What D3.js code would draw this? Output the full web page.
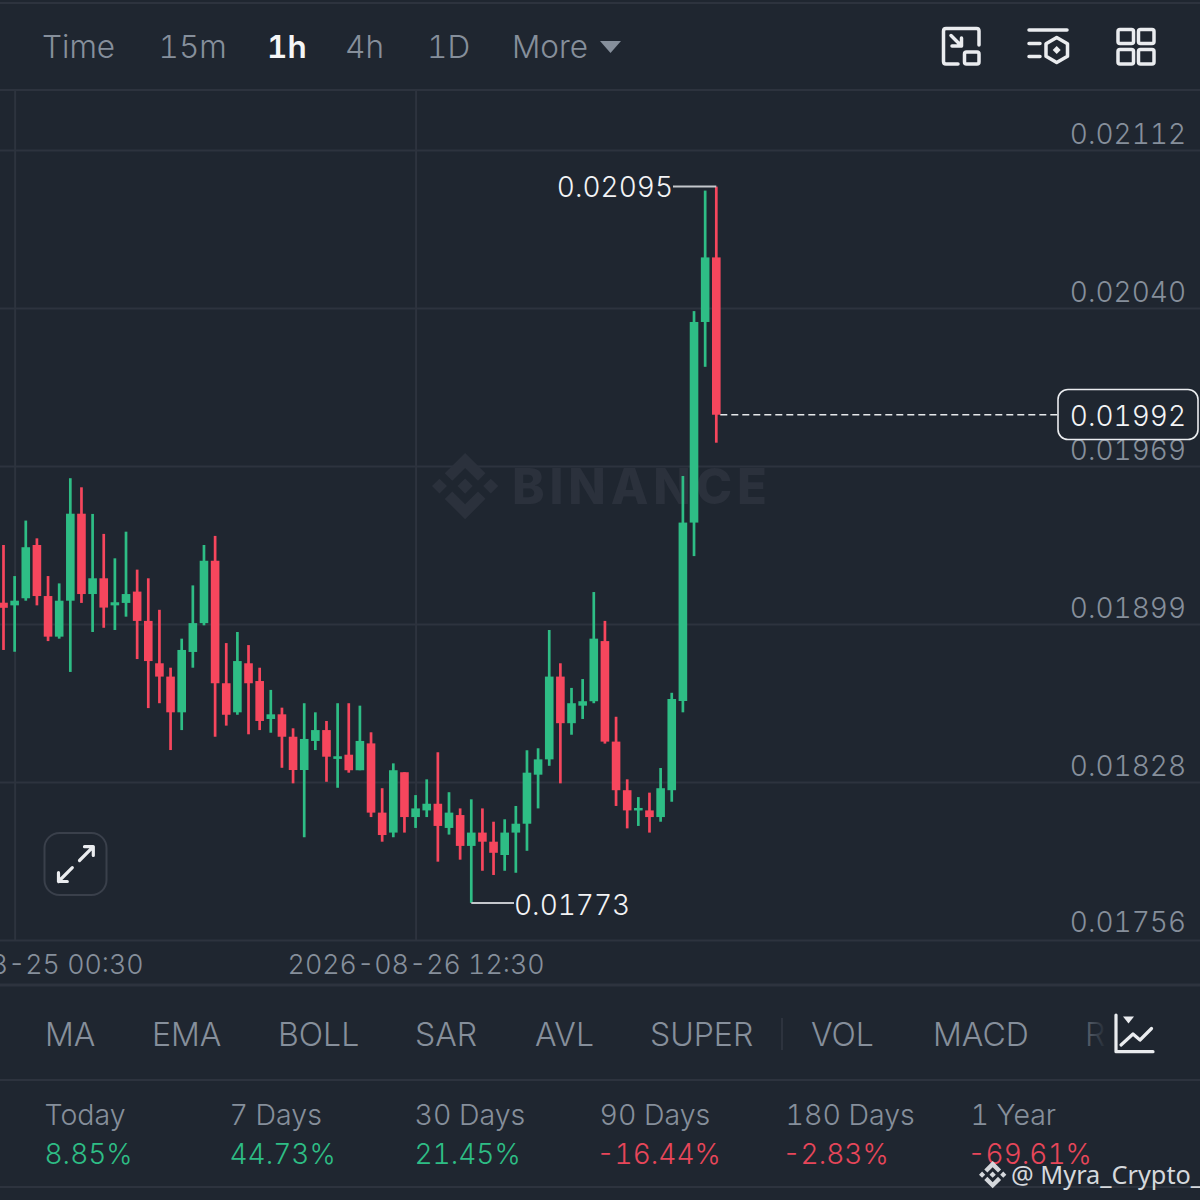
<!DOCTYPE html>
<html lang="en">

<head>
    <meta charset="UTF-8">
    <title>Binance 1h chart</title>
    <style>
        html, body { margin: 0; padding: 0; background: #1f2630; }
        svg { display: block; font-family: Inter, sans-serif; font-weight: 300; font-variant-numeric: tabular-nums; }
    </style>
</head>

<body>
    <svg width="1200" height="1200"></svg>

    <script src="https://cdn.jsdelivr.net/npm/d3@7"></script>
    <script>
        // candles, oldest first
        var opens = [0.019080, 0.019068, 0.019100, 0.019340, 0.019110, 0.018927, 0.019089, 0.019481, 0.019119, 0.019190, 0.019068, 0.019079, 0.019130,
            0.018998, 0.018807, 0.018747, 0.018586, 0.018858, 0.018988, 0.019269, 0.018717, 0.018586, 0.018807, 0.018727, 0.018556, 0.018577, 0.018476,
            0.018326, 0.018457, 0.018506, 0.018376, 0.018395, 0.018325, 0.018446, 0.018134, 0.018044, 0.018316, 0.018114, 0.018144, 0.018174, 0.018065,
            0.018123, 0.017984, 0.018044, 0.018003, 0.017943, 0.018044, 0.018084, 0.018305, 0.018374, 0.018747, 0.018537, 0.018616, 0.018636, 0.018907,
            0.018454, 0.018235, 0.018144, 0.018144, 0.018114, 0.018235, 0.018637, 0.019441, 0.020345, 0.020636];
        var highs = [0.019340, 0.019200, 0.019450, 0.019370, 0.019200, 0.019167, 0.019641, 0.019600, 0.019480, 0.019390, 0.019280, 0.019400, 0.019229,
            0.019190, 0.019048, 0.018787, 0.018918, 0.019158, 0.019340, 0.019381, 0.018898, 0.018948, 0.018889, 0.018787, 0.018687, 0.018607, 0.018514,
            0.018627, 0.018586, 0.018547, 0.018627, 0.018627, 0.018616, 0.018496, 0.018244, 0.018356, 0.018316, 0.018213, 0.018284, 0.018406, 0.018226,
            0.018153, 0.018194, 0.018153, 0.018093, 0.018104, 0.018164, 0.018415, 0.018424, 0.018957, 0.018807, 0.018696, 0.018736, 0.019128, 0.018998,
            0.018566, 0.018284, 0.018204, 0.018224, 0.018335, 0.018674, 0.019651, 0.020394, 0.020937, 0.020955];
        var lows = [0.018867, 0.018859, 0.019089, 0.019068, 0.018907, 0.018918, 0.018768, 0.019079, 0.018948, 0.018967, 0.018957, 0.019017, 0.018826,
            0.018605, 0.018627, 0.018416, 0.018506, 0.018787, 0.018978, 0.018476, 0.018526, 0.018575, 0.018487, 0.018506, 0.018494, 0.018336, 0.018266,
            0.018023, 0.018416, 0.018273, 0.018246, 0.018314, 0.018325, 0.018114, 0.018003, 0.018023, 0.018044, 0.018065, 0.018114, 0.017913, 0.018035,
            0.017922, 0.017727, 0.017872, 0.017853, 0.017872, 0.017863, 0.017962, 0.018153, 0.018345, 0.018266, 0.018485, 0.018556, 0.018627, 0.018445,
            0.018164, 0.018063, 0.018074, 0.018044, 0.018093, 0.018183, 0.018586, 0.019290, 0.020143, 0.019801];
        var closes = [0.019057, 0.019089, 0.019330, 0.019110, 0.018927, 0.019089, 0.019481, 0.019119, 0.019190, 0.019058, 0.019082, 0.019119, 0.018998,
            0.018817, 0.018747, 0.018586, 0.018867, 0.018988, 0.019269, 0.018717, 0.018575, 0.018817, 0.018717, 0.018547, 0.018577, 0.018476, 0.018326,
            0.018466, 0.018506, 0.018386, 0.018388, 0.018325, 0.018457, 0.018134, 0.018033, 0.018325, 0.018114, 0.018153, 0.018174, 0.018074, 0.018134,
            0.017984, 0.018044, 0.018003, 0.017953, 0.018044, 0.018084, 0.018314, 0.018374, 0.018747, 0.018537, 0.018627, 0.018636, 0.018918, 0.018454,
            0.018235, 0.018144, 0.018155, 0.018114, 0.018244, 0.018646, 0.019441, 0.020345, 0.020636, 0.019927];

        // axis
        var priceTicks = [0.02112, 0.020408, 0.019696, 0.018984, 0.018272, 0.01756];
        var priceLabels = ["0.02112", "0.02040", "0.01969", "0.01899", "0.01828", "0.01756"];
        var timeTicks = [1, 37];
        var timeLabels = ["2026-08-25 00:30", "2026-08-26 12:30"];

        var highLabel = "0.02095";
        var lowLabel = "0.01773";
        var lastLabel = "0.01992";

        // toolbar and footer texts
        var intervals = ["Time", "15m", "1h", "4h", "1D", "More"];
        var indicators = ["MA", "EMA", "BOLL", "SAR", "AVL", "SUPER", "VOL", "MACD", "RSI"];
        var periods = ["Today", "7 Days", "30 Days", "90 Days", "180 Days", "1 Year"];
        var changes = ["8.85%", "44.73%", "21.45%", "-16.44%", "-2.83%", "-69.61%"];

        var BG = "#1f2630";
        var GRID = "#2d333e";
        var UP = "#2ebd85";
        var DOWN = "#f6465d";
        var MUTED = "#868f9b";
        var ICON = "#eaecef";
        var LOGO = "M38.73 53.2l24.59-24.58 24.6 24.6 14.3-14.31L63.32 0 24.42 38.9zM0 63.31l14.3-14.31 14.31 14.31-14.31 14.3zM38.73 73.41l24.59 24.59 24.6-24.6 14.31 14.29-38.9 38.91-38.91-38.88zM98 63.31l14.3-14.31 14.31 14.3-14.31 14.32zM77.83 63.3L63.32 48.78 52.59 59.51l-1.24 1.23-2.54 2.54 14.51 14.5 14.51-14.52z";

        var svg = d3.select("svg");
        svg.append("rect").attr("width", 1200).attr("height", 1200).attr("fill", BG);

        var x = d3.scaleLinear().domain([0, opens.length - 1]).range([3.5, 716.3]);
        var y = d3.scaleLinear().domain([0.01756, 0.02112]).range([940, 150]);

        function label(parent, px, py, str, size, fill) {
            return parent.append("text")
                .attr("x", px)
                .attr("y", py)
                .attr("font-size", size)
                .attr("fill", fill)
                .text(str);
        }

        function hline(x1, x2, py, color, width) {
            svg.append("line").attr("x1", x1).attr("x2", x2).attr("y1", py).attr("y2", py)
                .attr("stroke", color).attr("stroke-width", width);
        }

        // frame lines
        hline(0, 1200, 3, GRID, 2);
        hline(0, 1200, 90, GRID, 2);
        hline(0, 1200, 985, GRID, 3);
        hline(0, 1200, 1080, GRID, 2);
        hline(0, 1200, 1187, GRID, 2);

        // grid and axis labels
        var yAxis = d3.axisRight(y)
            .tickValues(priceTicks)
            .tickSize(-1200)
            .tickPadding(0)
            .tickFormat(function (d, i) { return priceLabels[i]; });

        var yG = svg.append("g").attr("transform", "translate(1200,0)").call(yAxis);
        yG.select(".domain").remove();
        yG.selectAll(".tick line").attr("stroke", GRID).attr("stroke-width", 2);
        yG.selectAll(".tick text")
            .attr("x", -14)
            .attr("dy", 0)
            .attr("y", function (d, i) { return i === priceTicks.length - 1 ? -9 : -7; })
            .attr("text-anchor", "end")
            .attr("font-size", 28)
            .attr("font-family", "Inter, sans-serif")
            .attr("font-weight", 300)
            .attr("fill", MUTED);

        var xAxis = d3.axisBottom(x)
            .tickValues(timeTicks)
            .tickSize(-850)
            .tickPadding(0)
            .tickFormat(function (d, i) { return timeLabels[i]; });

        var xG = svg.append("g").attr("transform", "translate(0,940)").call(xAxis);
        xG.select(".domain").remove();
        xG.selectAll(".tick line").attr("stroke", GRID).attr("stroke-width", 2);
        xG.selectAll(".tick text")
            .attr("y", 34)
            .attr("dy", 0)
            .attr("font-size", 26.8)
            .attr("font-family", "Inter, sans-serif")
            .attr("font-weight", 300)
            .attr("fill", MUTED);

        // watermark
        svg.append("path").attr("d", LOGO)
            .attr("transform", "translate(432,453) scale(0.523)")
            .attr("fill", "#2b313c");
        label(svg, 512, 503.5, "BINANCE", 49, "#2b313c")
            .attr("font-weight", 800)
            .attr("textLength", 255)
            .attr("lengthAdjust", "spacing");

        // candles
        var candle = svg.append("g").selectAll("g")
            .data(d3.range(opens.length))
            .enter()
            .append("g")
            .attr("fill", function (i) { return closes[i] >= opens[i] ? UP : DOWN; });

        candle.append("rect")
            .attr("x", function (i) { return x(i) - 1.35; })
            .attr("width", 2.7)
            .attr("y", function (i) { return y(highs[i]); })
            .attr("height", function (i) { return y(lows[i]) - y(highs[i]); });

        candle.append("rect")
            .attr("x", function (i) { return x(i) - 4.3; })
            .attr("width", 8.6)
            .attr("y", function (i) { return y(Math.max(opens[i], closes[i])); })
            .attr("height", function (i) { return Math.max(2.5, Math.abs(y(opens[i]) - y(closes[i]))); });

        // high / low / last price notes
        var last = opens.length - 1;
        var highIdx = d3.maxIndex(highs);
        var lowIdx = d3.minIndex(lows);

        hline(673, x(highIdx), y(highs[highIdx]), "#c4c7cc", 2);
        label(svg, 673, y(highs[highIdx]) + 10, highLabel, 28, "#f2f3f5").attr("text-anchor", "end");
        hline(x(lowIdx), 514, y(lows[lowIdx]), "#c4c7cc", 2);
        label(svg, 514, y(lows[lowIdx]) + 12.5, lowLabel, 28, "#f2f3f5");

        svg.append("line")
            .attr("x1", x(last) + 4).attr("x2", 1058)
            .attr("y1", y(closes[last])).attr("y2", y(closes[last]))
            .attr("stroke", "#e6e8ea").attr("stroke-width", 1.6).attr("stroke-dasharray", "7 4");
        svg.append("rect")
            .attr("x", 1058).attr("y", 389.5).attr("width", 140).attr("height", 50).attr("rx", 10)
            .attr("fill", BG).attr("stroke", "#eaecef").attr("stroke-width", 1.6);
        label(svg, 1186, 426, lastLabel, 28, "#f2f3f5").attr("text-anchor", "end");

        // expand button
        var expand = svg.append("g").attr("fill", "none").attr("stroke-linecap", "round").attr("stroke-linejoin", "round");
        expand.append("rect").attr("x", 44.5).attr("y", 833).attr("width", 62).attr("height", 62).attr("rx", 15)
            .attr("stroke", "#3a404b").attr("stroke-width", 2);
        expand.append("path")
            .attr("d", "M79.5 860.5L93.3 846.7M84.5 846.7H93.3V855.5M72.3 867.7L58.5 881.5M58.5 872.7V881.5H67.3")
            .attr("stroke", ICON).attr("stroke-width", 3.2);

        // top toolbar
        var intervalX = [42, 158.5, 267, 345, 427, 512];
        intervals.forEach(function (t, i) {
            label(svg, intervalX[i], 58, t, 31.5, t === "1h" ? "#f5f6f7" : MUTED)
                .attr("font-weight", t === "1h" ? 600 : 300);
        });
        svg.append("path").attr("d", "M600 41H621L610.5 53Z").attr("fill", MUTED);

        var icons = svg.append("g").attr("fill", "none").attr("stroke", ICON).attr("stroke-width", 3.5)
            .attr("stroke-linecap", "round").attr("stroke-linejoin", "round");
        icons.append("path").attr("d", "M979 45V31Q979 28.5 976.5 28.5H946Q943.5 28.5 943.5 31V61.5Q943.5 64 946 64H958");
        icons.append("rect").attr("x", 964.5).attr("y", 52).attr("width", 14.5).attr("height", 12).attr("rx", 2);
        icons.append("path").attr("d", "M951 35.5L961.5 46M961.5 38V46H952");
        icons.append("path").attr("d", "M1029 30H1067M1029 43.5H1040M1029 56.5H1040");
        icons.append("path").attr("d", "M1056.7 37.5L1067.5 43.7V56.3L1056.7 62.5L1046 56.3V43.7Z");
        icons.append("path").attr("d", "M1056.7 46L1060.7 50L1056.7 54L1052.7 50Z").attr("fill", ICON).attr("stroke", "none");
        icons.append("rect").attr("x", 1118).attr("y", 29.5).attr("width", 15.5).attr("height", 14).attr("rx", 2);
        icons.append("rect").attr("x", 1138.5).attr("y", 29.5).attr("width", 15.5).attr("height", 14).attr("rx", 2);
        icons.append("rect").attr("x", 1118).attr("y", 49.5).attr("width", 15.5).attr("height", 14.5).attr("rx", 2);
        icons.append("rect").attr("x", 1138.5).attr("y", 49.5).attr("width", 15.5).attr("height", 14.5).attr("rx", 2);

        // indicator row
        var indicatorX = [45, 152, 278, 415, 535, 650, 811, 933, 1085];
        indicators.forEach(function (t, i) {
            label(svg, indicatorX[i], 1046, t, 32, MUTED);
        });
        svg.append("line").attr("x1", 782).attr("x2", 782).attr("y1", 1018).attr("y2", 1050)
            .attr("stroke", GRID).attr("stroke-width", 2);

        var fade = svg.append("defs").append("linearGradient").attr("id", "fade");
        fade.append("stop").attr("offset", "0%").attr("stop-color", BG).attr("stop-opacity", 0.35);
        fade.append("stop").attr("offset", "100%").attr("stop-color", BG).attr("stop-opacity", 1);
        svg.append("rect").attr("x", 1083).attr("y", 1010).attr("width", 24).attr("height", 50).attr("fill", "url(#fade)");
        svg.append("rect").attr("x", 1107).attr("y", 1010).attr("width", 93).attr("height", 50).attr("fill", BG);

        var chartIcon = svg.append("g").attr("fill", "none").attr("stroke", ICON).attr("stroke-width", 3.2)
            .attr("stroke-linecap", "round").attr("stroke-linejoin", "round");
        chartIcon.append("path").attr("d", "M1116 1015V1051.7H1153");
        chartIcon.append("path").attr("d", "M1121 1045L1133 1034L1140 1040L1151.5 1028.5");
        chartIcon.append("path").attr("d", "M1123 1016.5H1134L1128.5 1023.5Z").attr("fill", ICON).attr("stroke", "none");

        // period changes
        var periodX = [44.5, 229.5, 414.5, 599.5, 785.5, 970.5];
        periods.forEach(function (t, i) {
            var neg = changes[i][0] === "-";
            label(svg, periodX[i], 1125, t, 28.5, MUTED);
            label(svg, periodX[i] - (neg ? 3 : 0), 1164, changes[i], 28, neg ? "#e8465a" : UP);
        });

        // footer tag
        svg.append("path").attr("d", LOGO)
            .attr("transform", "translate(979,1161) scale(0.216)")
            .attr("fill", "#d5d8dc");
        label(svg, 1011, 1184, "@ Myra_Crypto_", 25.3, "#d5d8dc")
            .attr("font-family", "\"Noto Sans\", sans-serif")
            .attr("font-weight", 400);
    </script>
</body>

</html>
